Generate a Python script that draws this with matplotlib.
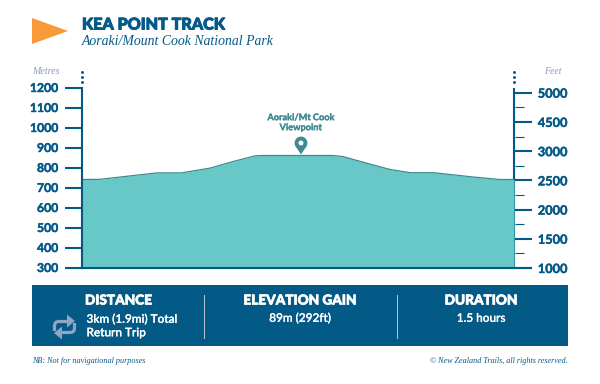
import numpy as np
import matplotlib
matplotlib.use('Agg')
import matplotlib.pyplot as plt
import matplotlib.patheffects as pe
from matplotlib.path import Path
from matplotlib.patches import Rectangle, Polygon, Circle, PathPatch

navy = '#045a87'
teal = '#67c8c7'
teal_dark = '#3d8a90'
orange = '#f99a38'
grey = '#8a9ab8'

# track profile
distance_km = [0, 0.125, 0.31, 0.52, 0.69, 0.89, 1.05, 1.2, 1.25, 1.74, 1.81, 2.01, 2.14, 2.28, 2.44, 2.71, 2.9, 3.0]
elevation_m = [740, 741, 756, 773, 773, 797, 830, 858, 860, 860, 855, 815, 790, 774, 774, 753, 740, 740]

metre_ticks = [300, 400, 500, 600, 700, 800, 900, 1000, 1100, 1200]
feet_labels = ['1000', '1500', '2000', '2500', '3000', '4500', '5000']
feet_major = [0, 1, 2, 3, 4, 5, 6]
feet_minor = [0.5, 1.5, 2.5, 3.5, 4.5, 5.5]

W, H = 600, 384
fig = plt.figure(figsize=(W/100, H/100), dpi=100)

# page layer in pixels
page = fig.add_axes([0, 0, 1, 1])
page.set_xlim(0, W)
page.set_ylim(H, 0)
page.axis('off')

sans = 'Lato'
serif = 'Liberation Serif'


def heavy(t, w=0.5):
    t.set_path_effects([pe.withStroke(linewidth=w, foreground=t.get_color())])


# pennant and title
page.add_patch(Polygon([[32, 18], [68, 31], [32, 44]], color=orange, lw=0))
heavy(page.text(82, 24.5, 'KEA POINT TRACK', family=sans, weight='black', size=11.6, color=navy, va='center'), 0.7)
page.text(82, 41.5, 'Aoraki/Mount Cook National Park', family=serif, style='italic', size=9.9, color=navy, va='center')
page.text(32, 71, 'Metres', family=serif, style='italic', size=7.2, color=grey, va='center')
page.text(544, 71, 'Feet', family=serif, style='italic', size=7, color=grey, va='center')

# chart
left, right, top, bottom = 82, 514, 87.5, 267.5
ax = fig.add_axes([left/W, 1-bottom/H, (right-left)/W, (bottom-top)/H])
ax.patch.set_alpha(0)
ax.fill_between(distance_km, elevation_m, 300, color=teal, lw=0)
ax.plot(distance_km, elevation_m, color=teal_dark, lw=0.9)
ax.set_xlim(0, 3)
ax.set_ylim(300, 1200)
ax.set_xticks([])
ax.set_yticks(metre_ticks)
ax.tick_params(axis='y', length=12.2, width=1.5, color=navy, labelcolor=navy, pad=5)
for t in ax.get_yticklabels():
    t.set_family(sans)
    t.set_weight('bold')
    t.set_size(8.8)
    heavy(t, 0.3)
for s in ['top', 'right']:
    ax.spines[s].set_visible(False)
for s in ['left', 'bottom']:
    ax.spines[s].set_color(navy)
    ax.spines[s].set_linewidth(1.5)

# feet axis has its own even spacing and labels
ax2 = fig.add_axes([right/W, 1-268/H, 0.001, (268-92.7)/H])
ax2.patch.set_alpha(0)
ax2.set_xticks([])
ax2.set_ylim(0, 6)
ax2.set_yticks(feet_major)
ax2.set_yticklabels(feet_labels)
ax2.set_yticks(feet_minor, minor=True)
ax2.yaxis.tick_right()
ax2.tick_params(axis='y', which='major', length=12.2, width=1.5, color=navy, labelcolor=navy, pad=4.5)
ax2.tick_params(axis='y', which='minor', length=6.5, width=0.8, color=navy)
for t in ax2.get_yticklabels():
    t.set_family(sans)
    t.set_weight('bold')
    t.set_size(9.2)
    heavy(t, 0.3)
for s in ['top', 'left', 'bottom', 'right']:
    ax2.spines[s].set_visible(False)

page.plot([514, 514], [87.5, 268.5], color=navy, lw=1.5, solid_capstyle='butt')
page.plot([82, 531], [268, 268], color=navy, lw=1.5, solid_capstyle='butt')
page.scatter([82]*3 + [514]*3, [72, 77, 82]*2, s=4.5, color=navy, lw=0)

# viewpoint pin
page.add_patch(Polygon([[295.4, 146], [301, 154.5], [306.6, 146]], color=teal_dark, lw=0))
page.add_patch(Circle((301, 143), 6.4, color=teal_dark, lw=0))
page.add_patch(Circle((301, 143), 2.5, color='white', lw=0))
for y, s in [(117.7, 'Aoraki/Mt Cook'), (127.7, 'Viewpoint')]:
    heavy(page.text(300.7, y, s, family=sans, weight='bold', size=6.6, color=teal_dark, ha='center', va='center'), 0.2)

# info band
page.add_patch(Rectangle((32, 284.5), 535.7, 61.5, color=navy, lw=0))
page.plot([204.4, 204.4], [295, 338], color='#b5c8d6', lw=0.7)
page.plot([396.7, 396.7], [295, 338], color='#b5c8d6', lw=0.7)
for x, s in [(118.5, 'DISTANCE'), (300, 'ELEVATION GAIN'), (481, 'DURATION')]:
    heavy(page.text(x, 300.5, s, family=sans, weight='black', size=9.8, color='white', ha='center', va='center'), 0.5)
for x, y, s, ha in [(86.5, 319.3, '3km (1.9mi) Total', 'left'), (86.5, 332.8, 'Return Trip', 'left'),
                    (300, 318.3, '89m (292ft)', 'center'), (481, 318.3, '1.5 hours', 'center')]:
    heavy(page.text(x, y, s, family=sans, weight='medium', size=8.5, color='white', ha=ha, va='center'), 0.2)

# repeat icon, second half is the first turned about the centre
icon = '#8fa5c2'
cx, cy = 64.5, 327
pts = np.array([[-10, 4], [-10, -1], [-10, -5.5], [-5.5, -5.5], [4, -5.5]])
codes = [Path.MOVETO, Path.LINETO, Path.CURVE3, Path.CURVE3, Path.LINETO]
head = np.array([[2.5, -12.5], [10.5, -6], [2.5, 0.5]])
for sign in [1, -1]:
    page.add_patch(PathPatch(Path(pts*sign + [cx, cy], codes), fill=False, ec=icon, lw=2.3))
    page.add_patch(Polygon(head*sign + [cx, cy], color=icon, lw=0))

# footnotes
page.text(32, 361, 'NB: Not for navigational purposes', family=serif, style='italic', size=5.9, color=navy, va='center')
page.text(567.5, 361, '© New Zealand Trails, all rights reserved.', family=serif, style='italic', size=5.9, color=navy, ha='right', va='center')

fig.savefig('out.png', dpi=100)
